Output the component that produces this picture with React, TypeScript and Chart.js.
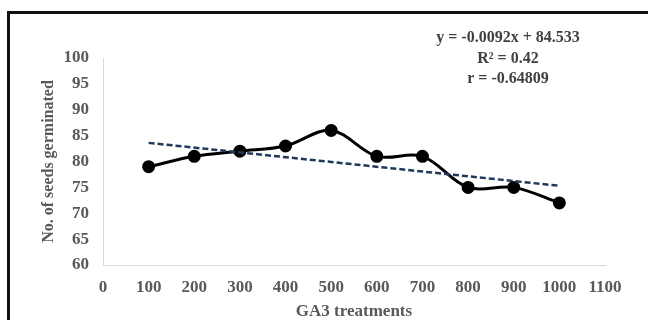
import React, { useEffect, useRef } from "react";
import { Chart, registerables } from "chart.js";

Chart.register(...registerables);

const treatments = [100, 200, 300, 400, 500, 600, 700, 800, 900, 1000];
const seedsGerminated = [79, 81, 82, 83, 86, 81, 81, 75, 75, 72];
const trendX = [100, 1000];
const trendY = [83.6, 75.3];
const equationLines = ["y = -0.0092x + 84.533", "R² = 0.42", "r = -0.64809"];
const xTitle = "GA3 treatments";
const yTitle = "No. of seeds germinated";

const SERIF = '"Liberation Serif", "Times New Roman", serif';
const TICK_COLOR = "#595959";

const equationPlugin = {
  id: "equation",
  afterDraw(chart: any) {
    const ctx = chart.ctx;
    ctx.save();
    ctx.font = `bold 16px ${SERIF}`;
    ctx.fillStyle = "#404040";
    ctx.textAlign = "center";
    ctx.textBaseline = "middle";
    const ys = [38, 58.5, 79];
    equationLines.forEach((t, i) => ctx.fillText(t, 508, ys[i]));
    ctx.restore();
  },
};

export default function App() {
  const ref = useRef<HTMLCanvasElement | null>(null);
  useEffect(() => {
    if (!ref.current) return;
    const chart = new Chart(ref.current, {
      type: "line",
      data: {
        datasets: [
          {
            label: "Seeds",
            data: treatments.map((x, i) => ({ x, y: seedsGerminated[i] })),
            borderColor: "#000000",
            backgroundColor: "#000000",
            borderWidth: 3,
            pointRadius: 5,
            pointHoverRadius: 5,
            tension: 0.35,
            order: 2,
          },
          {
            label: "Trend",
            data: trendX.map((x, i) => ({ x, y: trendY[i] })),
            borderColor: "#1f3a5a",
            borderWidth: 2.5,
            borderDash: [6, 3],
            pointRadius: 0,
            tension: 0,
            order: 1,
          },
        ],
      },
      options: {
        animation: false,
        responsive: false,
        maintainAspectRatio: false,
        layout: { padding: { left: 0, top: 58, right: 43, bottom: 0 } },
        plugins: {
          legend: { display: false },
          tooltip: { enabled: false },
        },
        scales: {
          x: {
            type: "linear",
            min: 0,
            max: 1100,
            ticks: {
              stepSize: 100,
              color: TICK_COLOR,
              font: { family: SERIF, size: 17, weight: "bold" },
              padding: 4,
              maxRotation: 0,
              autoSkip: false,
              callback: (v: any) => String(v),
            },
            grid: { display: false },
            border: { display: true, color: "#d9d9d9", width: 1 },
            title: {
              display: true,
              text: xTitle,
              color: TICK_COLOR,
              font: { family: SERIF, size: 17, weight: "bold", lineHeight: 1 },
              padding: { top: 0, bottom: 0 },
            },
            afterFit(scale: any) {
              scale.height = 55;
            },
          },
          y: {
            type: "linear",
            min: 60,
            max: 100,
            ticks: {
              stepSize: 5,
              color: TICK_COLOR,
              font: { family: SERIF, size: 17, weight: "bold" },
              padding: 6,
            },
            grid: { display: false },
            border: { display: true, color: "#d9d9d9", width: 1 },
            title: {
              display: true,
              text: yTitle,
              color: TICK_COLOR,
              font: { family: SERIF, size: 16, weight: "bold", lineHeight: 1.2 },
              padding: { top: 39, bottom: 0 },
            },
            afterFit(scale: any) {
              scale.width = 103;
            },
          },
        },
      },
      plugins: [equationPlugin],
    } as any);
    return () => chart.destroy();
  }, []);

  return (
    <div
      style={{
        position: "fixed",
        left: 0,
        top: 0,
        width: 648,
        height: 320,
        overflow: "hidden",
        background: "#ffffff",
      }}
    >
      <div
        style={{
          position: "absolute",
          left: 7,
          top: 11,
          width: 700,
          height: 400,
          border: "3px solid #111111",
          boxSizing: "border-box",
        }}
      />
      <canvas
        ref={ref}
        width={648}
        height={320}
        style={{ position: "absolute", left: 0, top: 0, width: 648, height: 320 }}
      />
    </div>
  );
}
